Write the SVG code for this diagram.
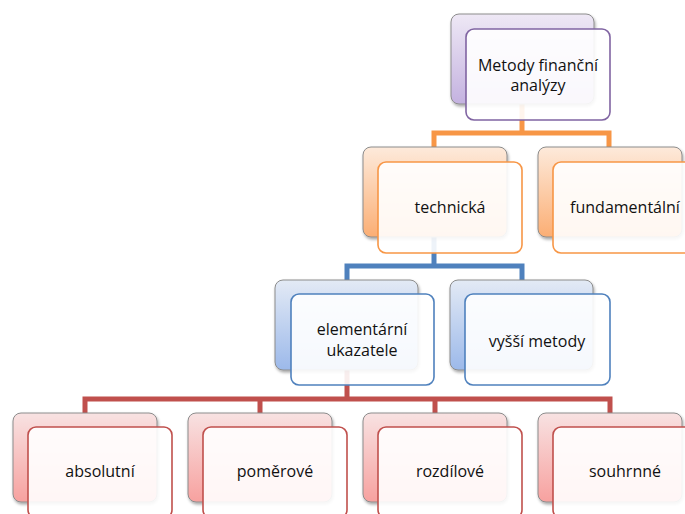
<svg xmlns="http://www.w3.org/2000/svg" width="685" height="514" viewBox="0 0 685 514">
<defs>
<linearGradient id="gP" x1="0" y1="0" x2="0" y2="1"><stop offset="0" stop-color="#eee8f5"/><stop offset="1" stop-color="#c4b2e0"/></linearGradient>
<linearGradient id="gO" x1="0" y1="0" x2="0" y2="1"><stop offset="0" stop-color="#fdeadb"/><stop offset="1" stop-color="#fbae74"/></linearGradient>
<linearGradient id="gB" x1="0" y1="0" x2="0" y2="1"><stop offset="0" stop-color="#e3eaf5"/><stop offset="1" stop-color="#9cb9ea"/></linearGradient>
<linearGradient id="gR" x1="0" y1="0" x2="0" y2="1"><stop offset="0" stop-color="#f8e2e2"/><stop offset="1" stop-color="#f7a19f"/></linearGradient>
<filter id="sh" x="-10%" y="-10%" width="130%" height="130%"><feDropShadow dx="1" dy="2" stdDeviation="1.5" flood-color="#000" flood-opacity="0.35"/></filter>
</defs>
<style>
.back{stroke:#8c8c8c;stroke-width:1;filter:url(#sh)}
.front{fill:#ffffff;fill-opacity:0.9;stroke-width:1.6}
.p .back{fill:url(#gP)} .p .front{stroke:#8064a2}
.o .back{fill:url(#gO)} .o .front{stroke:#f79646}
.b .back{fill:url(#gB)} .b .front{stroke:#4f81bd}
.r .back{fill:url(#gR)} .r .front{stroke:#c0504d}
text{font-family:"Open Sans","Liberation Sans",sans-serif;font-size:16px;fill:#111;text-anchor:middle}
.conn path{fill:none;stroke-width:5}
</style>
<g id="connectors" class="conn">
<path d="M522,104 V133 M434,147 V133 H609 V147" stroke="#f79646"/>
<path d="M434,237 V266 M347,280 V266 H522 V280" stroke="#4f81bd"/>
<path d="M347,370 V399 M85,413 V399 H610 V413 M260,399 V413 M435,399 V413" stroke="#c0504d"/>
</g>
<g id="n-metody" class="p">
<rect class="back" x="451" y="14" width="143" height="90" rx="8"/>
<rect class="front" x="466" y="29" width="144" height="91" rx="8"/>
<text x="538" y="71">Metody finanční</text>
<text x="538" y="91">analýzy</text>
</g>
<g id="n-technicka" class="o">
<rect class="back" x="363" y="147" width="144" height="90" rx="8"/>
<rect class="front" x="378" y="162" width="144" height="91" rx="8"/>
<text x="450" y="213">technická</text>
</g>
<g id="n-fundamentalni" class="o">
<rect class="back" x="538" y="147" width="144" height="90" rx="8"/>
<rect class="front" x="553" y="162" width="144" height="91" rx="8"/>
<text x="625" y="213">fundamentální</text>
</g>
<g id="n-elementarni" class="b">
<rect class="back" x="275" y="280" width="143" height="90" rx="8"/>
<rect class="front" x="291" y="294" width="143" height="91" rx="8"/>
<text x="362" y="335">elementární</text>
<text x="362" y="356">ukazatele</text>
</g>
<g id="n-vyssi" class="b">
<rect class="back" x="450" y="280" width="143" height="90" rx="8"/>
<rect class="front" x="465" y="294" width="145" height="91" rx="8"/>
<text x="537" y="347">vyšší metody</text>
</g>
<g id="n-absolutni" class="r">
<rect class="back" x="13" y="413" width="144" height="89" rx="8"/>
<rect class="front" x="28" y="427" width="144" height="91" rx="8"/>
<text x="100" y="477">absolutní</text>
</g>
<g id="n-pomerove" class="r">
<rect class="back" x="188" y="413" width="144" height="89" rx="8"/>
<rect class="front" x="203" y="427" width="144" height="91" rx="8"/>
<text x="275" y="477">poměrové</text>
</g>
<g id="n-rozdilove" class="r">
<rect class="back" x="363" y="413" width="144" height="89" rx="8"/>
<rect class="front" x="378" y="427" width="144" height="91" rx="8"/>
<text x="450" y="477">rozdílové</text>
</g>
<g id="n-souhrnne" class="r">
<rect class="back" x="538" y="413" width="144" height="89" rx="8"/>
<rect class="front" x="553" y="427" width="144" height="91" rx="8"/>
<text x="625" y="477">souhrnné</text>
</g>
</svg>
